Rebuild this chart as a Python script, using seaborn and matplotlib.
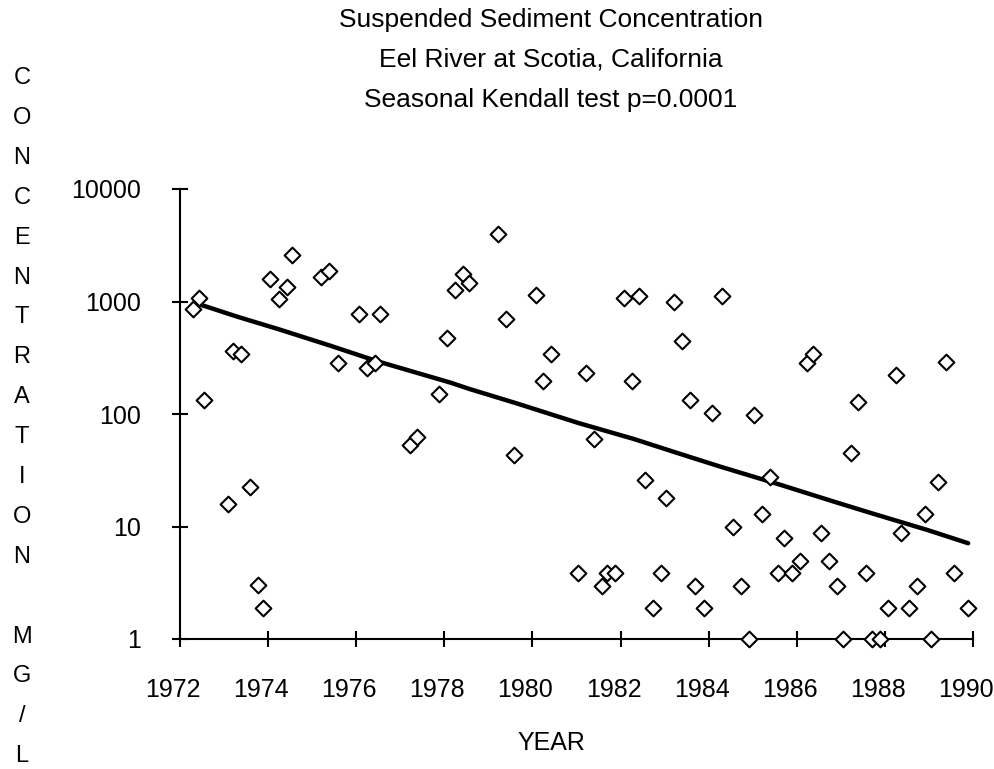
import matplotlib
matplotlib.use("Agg")
import matplotlib.pyplot as plt
import matplotlib.transforms as mtransforms
import seaborn as sns
import pandas as pd
from matplotlib.ticker import FixedLocator, FixedFormatter, NullLocator

# individual samples (decimal year, mg/L)
years = [1972.30, 1972.42, 1972.55, 1973.09, 1973.21, 1973.39, 1973.58, 1973.76, 1973.88,
         1974.05, 1974.24, 1974.42, 1974.55, 1975.21, 1975.39, 1975.58, 1976.06, 1976.24,
         1976.42, 1976.55, 1977.21, 1977.39, 1977.88, 1978.06, 1978.25, 1978.42, 1978.55,
         1979.21, 1979.39, 1979.58, 1980.07, 1980.25, 1980.43, 1981.04, 1981.21, 1981.39,
         1981.58, 1981.70, 1981.88, 1982.07, 1982.25, 1982.43, 1982.55, 1982.73, 1982.92,
         1983.04, 1983.22, 1983.40, 1983.58, 1983.70, 1983.89, 1984.07, 1984.30, 1984.55,
         1984.73, 1984.92, 1985.03, 1985.21, 1985.39, 1985.58, 1985.70, 1985.89, 1986.07,
         1986.24, 1986.36, 1986.55, 1986.73, 1986.91, 1987.04, 1987.22, 1987.40, 1987.58,
         1987.70, 1987.89, 1988.07, 1988.25, 1988.36, 1988.55, 1988.73, 1988.91, 1989.04,
         1989.21, 1989.39, 1989.58, 1989.89]
conc = [850, 1070, 133, 16, 363, 340, 22.3, 3.0, 1.9,
        1580, 1060, 1340, 2570, 1640, 1860, 286, 770, 255,
        286, 770, 53, 63, 150, 475, 1260, 1750, 1450,
        3980, 695, 43, 1135, 196, 340, 3.9, 233, 60,
        2.96, 3.9, 3.9, 1070, 196, 1130, 26, 1.9, 3.9,
        17.8, 1000, 445, 134, 2.96, 1.9, 102, 1130, 9.8,
        2.96, 1, 97, 13, 27.7, 3.9, 7.9, 3.9, 4.9,
        286, 340, 8.8, 4.9, 2.96, 1, 45, 127, 3.9,
        1, 1, 1.9, 220, 8.8, 1.9, 2.96, 13, 1,
        24.8, 290, 3.9, 1.9]

# trend line
trend_years = [1972.40, 1973.30, 1974.27, 1975.41, 1976.47, 1978.14, 1978.59, 1979.65,
               1981.05, 1982.30, 1983.29, 1984.27, 1985.64, 1986.85, 1987.76, 1988.97, 1989.89]
trend_conc = [955, 733, 562, 405, 295, 190, 166, 124,
              83, 60, 45, 34, 23.4, 16.6, 12.9, 9.3, 7.1]

x_ticks = list(range(1972, 1991, 2))
y_ticks = [1, 10, 100, 1000, 10000]
y_tick_labels = ['1', '10', '100', '1000', '10000']
title_lines = ['Suspended Sediment Concentration',
               'Eel River at Scotia, California',
               'Seasonal Kendall test p=0.0001']
y_label = 'CONCENTRATION MG/L'

sns.set_style('white')
plt.rcParams['font.family'] = ['Liberation Sans', 'DejaVu Sans']
plt.rcParams['text.color'] = 'black'

W, H = 995, 769
fig = plt.figure(figsize=(W / 100, H / 100), dpi=100)
ax = fig.add_axes([180 / W, 1 - 639 / H, 793 / W, 450 / H])

samples = pd.DataFrame({'year': years, 'conc': conc})
trend = pd.DataFrame({'year': trend_years, 'conc': trend_conc})

sns.lineplot(data=trend, x='year', y='conc', ax=ax, color='black', linewidth=3.2, zorder=2)
sns.scatterplot(data=samples, x='year', y='conc', ax=ax, marker='D', s=64,
                color='white', edgecolor='black', linewidth=1.5, zorder=3, clip_on=False)

ax.set_yscale('log')
ax.set_xlim(1972, 1990)
ax.set_ylim(1, 10000)
ax.xaxis.set_major_locator(FixedLocator(x_ticks))
ax.yaxis.set_major_locator(FixedLocator(y_ticks))
ax.yaxis.set_major_formatter(FixedFormatter(y_tick_labels))
ax.yaxis.set_minor_locator(NullLocator())
ax.tick_params(bottom=True, left=True, direction='inout', length=12, width=1.5,
               color='black', labelcolor='black', labelsize=18)
ax.tick_params(axis='y', pad=22)
ax.tick_params(axis='x', pad=22)
ax.set_xlabel('')
ax.set_ylabel('')

# year labels sit a little left of their ticks in the original
shift = mtransforms.ScaledTranslation(-7 / 100, 0, fig.dpi_scale_trans)
for lbl in ax.get_xticklabels():
    lbl.set_transform(lbl.get_transform() + shift)

for side in ['top', 'right']:
    ax.spines[side].set_visible(False)
for side in ['left', 'bottom']:
    ax.spines[side].set_linewidth(1.5)
    ax.spines[side].set_color('black')

for i, line in enumerate(title_lines):
    fig.text(551 / W, 1 - (20 + i * 40) / H, line, ha='center', va='center', fontsize=19)

for i, ch in enumerate(y_label):
    fig.text(22 / W, 1 - (78 + i * 39.9) / H, ch, ha='center', va='center', fontsize=17)

fig.text(551 / W, 1 - 743 / H, 'YEAR', ha='center', va='center', fontsize=18)

fig.savefig('out.png', dpi=100)
plt.close(fig)
